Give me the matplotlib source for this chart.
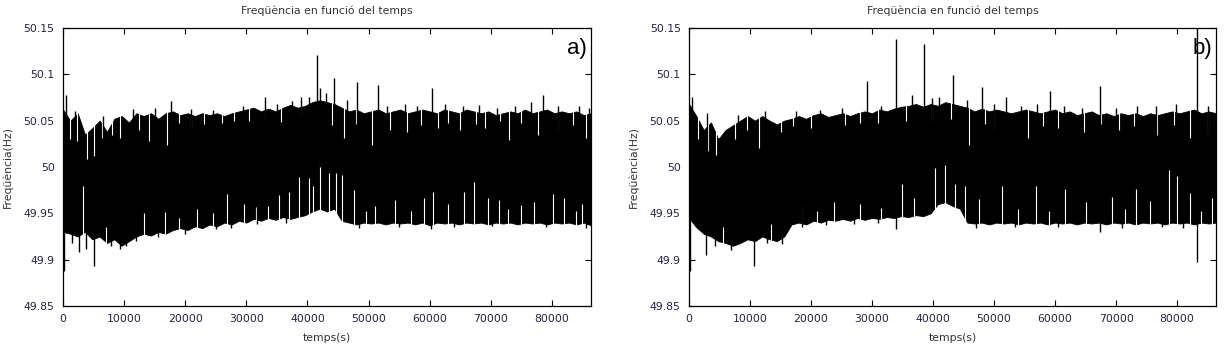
#!/usr/bin/env python3
"""
Frequency vs time for two days of grid measurements (panels a and b).
Envelopes, spikes and notches are read off the original figure.
"""

import numpy as np
import matplotlib
matplotlib.use("Agg")
import matplotlib.pyplot as plt

# time grid of the envelopes (s), every 1200 s over one day
t_env = list(range(0, 86401, 1200))

# panel a) envelopes (Hz)
upper_a = [50.062, 50.050, 50.058, 50.035, 50.042, 50.050, 50.038, 50.052, 50.055, 50.048,
           50.058, 50.055, 50.058, 50.052, 50.058, 50.060, 50.056, 50.058, 50.055, 50.058,
           50.056, 50.058, 50.055, 50.058, 50.060, 50.062, 50.064, 50.060, 50.063, 50.060,
           50.064, 50.067, 50.064, 50.066, 50.070, 50.072, 50.070, 50.068, 50.064, 50.060,
           50.062, 50.058, 50.060, 50.062, 50.058, 50.060, 50.062, 50.058, 50.060, 50.062,
           50.060, 50.058, 50.062, 50.060, 50.058, 50.062, 50.060, 50.058, 50.060, 50.056,
           50.058, 50.060, 50.058, 50.062, 50.058, 50.060, 50.062, 50.058, 50.060, 50.058,
           50.060, 50.056, 50.058]
lower_a = [49.930, 49.928, 49.925, 49.930, 49.922, 49.925, 49.918, 49.922, 49.915, 49.920,
           49.925, 49.928, 49.926, 49.930, 49.928, 49.932, 49.934, 49.932, 49.936, 49.934,
           49.938, 49.936, 49.940, 49.938, 49.942, 49.940, 49.944, 49.942, 49.945, 49.943,
           49.946, 49.944, 49.946, 49.948, 49.952, 49.955, 49.952, 49.955, 49.942, 49.940,
           49.938, 49.940, 49.939, 49.940, 49.938, 49.940, 49.939, 49.940, 49.938, 49.940,
           49.937, 49.940, 49.939, 49.940, 49.938, 49.940, 49.939, 49.940, 49.938, 49.940,
           49.939, 49.940, 49.938, 49.940, 49.939, 49.940, 49.938, 49.940, 49.939, 49.940,
           49.938, 49.940, 49.937]

# panel a) isolated excursions: (time, value)
peaks_a_t = [41600, 44400, 48100, 51600, 60300, 78500, 42100, 17700, 33100, 38900, 500,
             2000, 6500, 11500, 15000, 21000, 24500, 29500, 35000, 37500, 40200, 43000,
             46500, 53000, 56000, 58000, 62500, 65500, 68000, 71000, 74000, 76500, 81000,
             84500, 86000]
peaks_a_v = [50.121, 50.096, 50.092, 50.088, 50.085, 50.078, 50.085, 50.071, 50.075, 50.075, 50.078,
             50.060, 50.055, 50.063, 50.064, 50.063, 50.062, 50.066, 50.068, 50.071, 50.076, 50.080,
             50.072, 50.066, 50.068, 50.066, 50.068, 50.066, 50.067, 50.064, 50.066, 50.070, 50.066,
             50.066, 50.064]
dips_a_t = [100, 5150, 3700, 2700, 9300, 10300, 25100, 60200, 1500, 7800,
            12000, 15500, 20000, 27500, 31800, 36500, 48500, 55000, 64000, 70200, 79000, 85500]
dips_a_v = [49.888, 49.893, 49.911, 49.908, 49.912, 49.915, 49.933, 49.933, 49.918, 49.915,
            49.920, 49.924, 49.928, 49.934, 49.938, 49.940, 49.934, 49.935, 49.935, 49.936, 49.935, 49.934]
notch_top_a_t = [2250, 3900, 5150, 6400, 9300, 14150, 17000, 20900, 35700, 46000,
                 50500, 56300, 61400, 73000, 77800, 85600, 1200, 8000, 12500, 26000,
                 30500, 44000, 53500, 58500, 65000, 69000, 81000, 83500, 19000, 23000,
                 28000, 33000, 39000, 48000, 63000, 67500, 71500, 75000]
notch_top_a_v = [50.028, 50.009, 50.012, 50.031, 50.031, 50.028, 50.024, 50.042, 50.049, 50.031,
                 50.024, 50.038, 50.042, 50.029, 50.035, 50.031, 50.030, 50.035, 50.040, 50.048,
                 50.050, 50.045, 50.040, 50.045, 50.040, 50.042, 50.040, 50.045, 50.048, 50.046,
                 50.050, 50.052, 50.055, 50.046, 50.048, 50.046, 50.050, 50.048]
notch_bot_a_t = [3200, 13200, 16700, 26900, 29600, 31500, 35400, 37000, 38600, 40200,
                 40900, 42100, 43600, 44700, 45700, 47600, 54400, 59000, 60500, 65600,
                 67200, 69500, 71400, 74900, 80100, 82000, 22000, 51000, 63000, 77000, 85000,
                 7000, 19000, 24500, 33500, 49500, 57000, 72800, 84000]
notch_bot_a_v = [49.979, 49.950, 49.951, 49.971, 49.960, 49.957, 49.970, 49.973, 49.989, 49.988,
                 49.980, 50.005, 49.993, 49.993, 49.991, 49.975, 49.964, 49.966, 49.973, 49.973,
                 49.984, 49.966, 49.964, 49.959, 49.971, 49.966, 49.955, 49.958, 49.960, 49.962, 49.960,
                 49.935, 49.945, 49.950, 49.958, 49.952, 49.952, 49.955, 49.952]

# panel b) envelopes (Hz)
upper_b = [50.068, 50.055, 50.040, 50.048, 50.030, 50.040, 50.045, 50.050, 50.055, 50.050,
           50.055, 50.050, 50.046, 50.050, 50.052, 50.055, 50.052, 50.056, 50.058, 50.054,
           50.056, 50.058, 50.055, 50.058, 50.060, 50.058, 50.062, 50.060, 50.063, 50.065,
           50.066, 50.068, 50.065, 50.068, 50.066, 50.070, 50.068, 50.066, 50.064, 50.060,
           50.063, 50.060, 50.062, 50.060, 50.058, 50.060, 50.062, 50.060, 50.058, 50.060,
           50.062, 50.058, 50.060, 50.056, 50.058, 50.060, 50.056, 50.058, 50.055, 50.058,
           50.056, 50.058, 50.055, 50.058, 50.056, 50.058, 50.060, 50.058, 50.060, 50.062,
           50.058, 50.060, 50.058]
lower_b = [49.945, 49.935, 49.928, 49.925, 49.920, 49.918, 49.915, 49.918, 49.922, 49.920,
           49.925, 49.922, 49.920, 49.925, 49.938, 49.940, 49.938, 49.942, 49.940, 49.943,
           49.942, 49.944, 49.942, 49.945, 49.943, 49.945, 49.944, 49.946, 49.945, 49.947,
           49.946, 49.948, 49.947, 49.950, 49.960, 49.962, 49.958, 49.955, 49.940, 49.939,
           49.940, 49.938, 49.940, 49.939, 49.940, 49.938, 49.940, 49.939, 49.940, 49.938,
           49.940, 49.939, 49.940, 49.938, 49.940, 49.939, 49.940, 49.938, 49.940, 49.939,
           49.940, 49.938, 49.940, 49.939, 49.940, 49.938, 49.940, 49.939, 49.940, 49.938,
           49.940, 49.939, 49.940]

peaks_b_t = [34000, 38500, 43300, 29100, 48100, 67400, 59100, 83200, 500, 36500, 41000, 52000,
             3000, 8000, 12500, 17500, 21500, 25000, 31500, 39800, 45500, 50000, 54500,
             57000, 61500, 64500, 70000, 73500, 76500, 79800, 85000]
peaks_b_v = [50.138, 50.133, 50.099, 50.093, 50.086, 50.087, 50.082, 50.150, 50.075, 50.078, 50.075, 50.076,
             50.058, 50.056, 50.060, 50.060, 50.062, 50.064, 50.066, 50.074, 50.072, 50.068, 50.066,
             50.068, 50.066, 50.064, 50.064, 50.066, 50.066, 50.068, 50.066]
dips_b_t = [200, 2800, 10600, 83200, 34000, 67400, 6900, 15200, 4200, 12800,
            18500, 22500, 27000, 31000, 47000, 53500, 60500, 71000, 77500, 81000]
dips_b_v = [49.888, 49.905, 49.893, 49.897, 49.933, 49.930, 49.910, 49.917, 49.915, 49.918,
            49.935, 49.937, 49.938, 49.940, 49.934, 49.935, 49.935, 49.934, 49.935, 49.934]
notch_top_b_t = [3100, 4500, 11450, 15000, 45900, 55500, 64800, 82200, 76700, 85100,
                 1500, 7500, 20000, 25500, 31000, 39800, 50000, 60500, 70500, 79500,
                 9500, 17000, 28000, 35500, 43000, 48500, 58000, 67500, 73000]
notch_top_b_v = [50.017, 50.013, 50.020, 50.038, 50.024, 50.031, 50.038, 50.031, 50.035, 50.035,
                 50.030, 50.030, 50.042, 50.045, 50.048, 50.050, 50.040, 50.042, 50.040, 50.045,
                 50.040, 50.044, 50.048, 50.050, 50.052, 50.046, 50.044, 50.046, 50.044]
notch_bot_b_t = [23700, 34900, 36900, 40400, 41900, 43600, 45200, 51300, 56800, 61600,
                 69300, 73200, 78700, 80000, 82200, 85800, 18500, 28000, 47500, 65000, 75500,
                 5500, 13500, 21000, 31500, 54000, 59000, 71500, 84000]
notch_bot_b_v = [49.962, 49.982, 49.967, 49.999, 50.002, 49.982, 49.980, 49.980, 49.980, 49.976,
                 49.968, 49.976, 49.997, 49.990, 49.972, 49.967, 49.958, 49.960, 49.965, 49.962, 49.963,
                 49.935, 49.938, 49.952, 49.956, 49.955, 49.952, 49.955, 49.953]

panels = [
    ("a)", upper_a, lower_a, peaks_a_t, peaks_a_v, dips_a_t, dips_a_v,
     notch_top_a_t, notch_top_a_v, notch_bot_a_t, notch_bot_a_v),
    ("b)", upper_b, lower_b, peaks_b_t, peaks_b_v, dips_b_t, dips_b_v,
     notch_top_b_t, notch_top_b_v, notch_bot_b_t, notch_bot_b_v),
]

plt.rcParams["font.family"] = ["DejaVu Sans"]
fig = plt.figure(figsize=(12.28, 3.57), dpi=100)
positions = [[0.0513, 0.1429, 0.4300, 0.7787], [0.5611, 0.1429, 0.4292, 0.7787]]

for pos, (tag, up, lo, pk_t, pk_v, dp_t, dp_v, nt_t, nt_v, nb_t, nb_v) in zip(positions, panels):
    ax = fig.add_axes(pos)
    ax.fill_between(t_env, lo, up, color="black", linewidth=0.6, edgecolor="black")

    # white notches cut into the band
    top = np.interp(nt_t, t_env, up) + 0.01
    ax.vlines(nt_t, nt_v, top, color="white", linewidth=0.8)
    bot = np.interp(nb_t, t_env, lo) - 0.01
    ax.vlines(nb_t, bot, nb_v, color="white", linewidth=0.8)

    # spikes outside the band
    ax.vlines(pk_t, 50.0, pk_v, color="black", linewidth=1.0)
    ax.vlines(dp_t, 49.97, dp_v, color="black", linewidth=1.0)

    ax.set_xlim(0, 86400)
    ax.set_ylim(49.85, 50.15)
    ax.set_xticks([0, 10000, 20000, 30000, 40000, 50000, 60000, 70000, 80000])
    ax.set_yticks([49.85, 49.9, 49.95, 50.0, 50.05, 50.1, 50.15])
    ax.set_yticklabels(["49.85", "49.9", "49.95", "50", "50.05", "50.1", "50.15"])
    ax.tick_params(direction="in", length=4, width=0.8, top=True, right=True,
                   labelsize=7.8, labelcolor="#222244", pad=6)
    for s in ax.spines.values():
        s.set_linewidth(0.9)

    ax.set_title("Freqüència en funció del temps", fontsize=7.8, color="#333333", pad=10)
    ax.set_xlabel("temps(s)", fontsize=7.8, color="#333333", labelpad=6)
    ax.set_ylabel("Freqüència(Hz)", fontsize=7.8, color="#333333", labelpad=8)
    ax.text(0.992, 0.965, tag, transform=ax.transAxes, ha="right", va="top",
            fontsize=16, family="Liberation Sans")

fig.savefig("out.png", dpi=100)
